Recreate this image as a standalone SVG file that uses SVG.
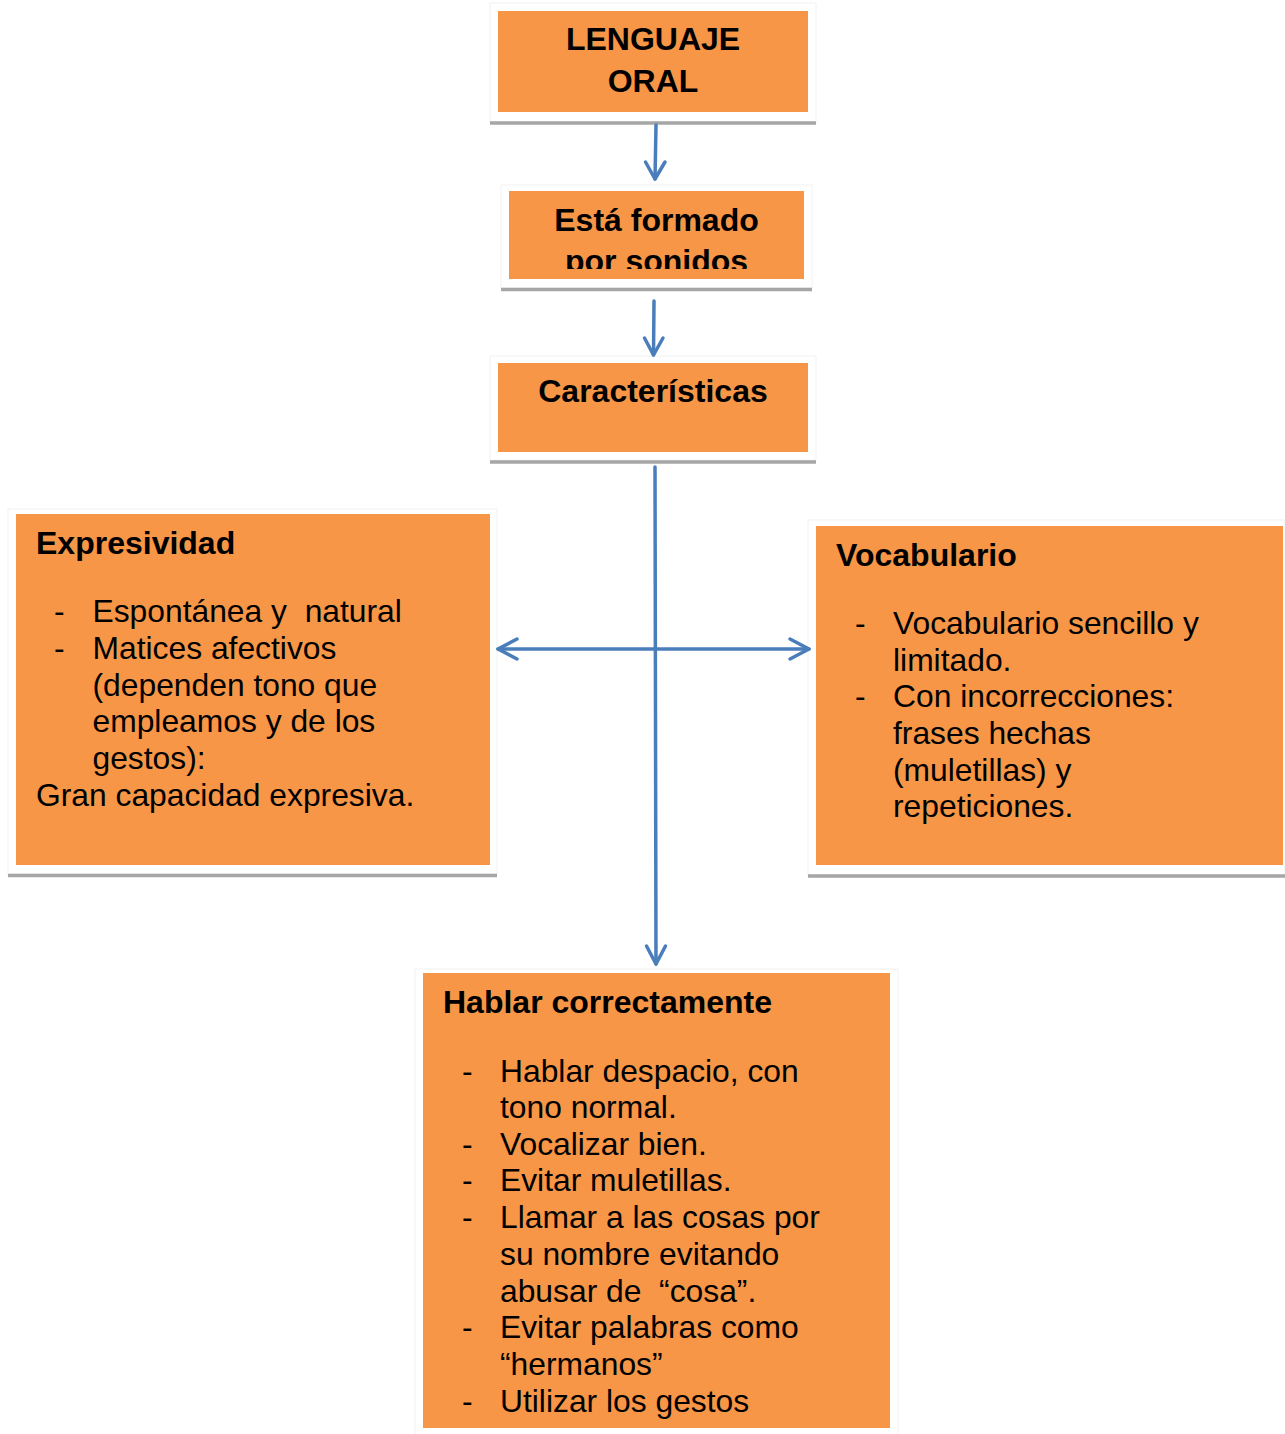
<svg xmlns="http://www.w3.org/2000/svg" width="1285" height="1434" viewBox="0 0 1285 1434">
<style>
.frame{fill:#ffffff;stroke:#f2f2f2;stroke-width:1}
.box{fill:#F79646}
.shadow{stroke:#A6A6A6;stroke-width:3.5;fill:none}
.t{font-family:"Liberation Sans",Arial,sans-serif;fill:#000;white-space:pre}
.b{font-weight:bold;font-size:32px}
.r{font-size:31.8px}
.c{text-anchor:middle}
.con{stroke:#4A7EBB;stroke-width:3.5;fill:none;stroke-linecap:round;stroke-linejoin:round}
</style>
<defs>
<clipPath id="clip2"><rect x="509" y="191" width="295" height="78"/></clipPath>
</defs>
<rect width="1285" height="1434" fill="#ffffff"/>

<g id="node-lenguaje">
<rect class="frame" x="490" y="3" width="326" height="119"/>
<rect class="box" x="498" y="11" width="310" height="101"/>
<line class="shadow" x1="490" y1="123" x2="816" y2="123"/>
<text class="t b c" x="653" y="50">LENGUAJE</text>
<text class="t b c" x="653" y="91.5">ORAL</text>
</g>

<g id="node-formado">
<rect class="frame" x="501" y="185" width="311" height="103"/>
<rect class="box" x="509" y="191" width="295" height="88"/>
<line class="shadow" x1="501" y1="289.5" x2="812" y2="289.5"/>
<g clip-path="url(#clip2)">
<text class="t b c" x="656.5" y="230.5">Está formado</text>
<text class="t b c" x="656.5" y="271.5">por sonidos</text>
</g>
</g>

<g id="node-caracteristicas">
<rect class="frame" x="490" y="356" width="326" height="104"/>
<rect class="box" x="498" y="363" width="310" height="89"/>
<line class="shadow" x1="490" y1="462" x2="816" y2="462"/>
<text class="t b c" x="653" y="401.5">Características</text>
</g>

<g id="node-expresividad">
<rect class="frame" x="8" y="509" width="489" height="365"/>
<rect class="box" x="16" y="514" width="474" height="351"/>
<line class="shadow" x1="8" y1="875.5" x2="497" y2="875.5"/>
<text class="t b" x="36" y="553.5">Expresividad</text>
<text class="t r" x="54" y="622">-</text>
<text class="t r" x="92.5" y="622" xml:space="preserve">Espontánea y  natural</text>
<text class="t r" x="54" y="658.5">-</text>
<text class="t r" x="92.5" y="658.5">Matices afectivos</text>
<text class="t r" x="92.5" y="695.5">(dependen tono que</text>
<text class="t r" x="92.5" y="732">empleamos y de los</text>
<text class="t r" x="92.5" y="768.5">gestos):</text>
<text class="t r" x="36" y="805.5">Gran capacidad expresiva.</text>
</g>

<g id="node-vocabulario">
<rect class="frame" x="808" y="520" width="477" height="355"/>
<rect class="box" x="816" y="526" width="467" height="339"/>
<line class="shadow" x1="808" y1="876" x2="1285" y2="876"/>
<text class="t b" x="836" y="565.5">Vocabulario</text>
<text class="t r" x="855" y="634">-</text>
<text class="t r" x="893" y="634">Vocabulario sencillo y</text>
<text class="t r" x="893" y="670.5">limitado.</text>
<text class="t r" x="855" y="707">-</text>
<text class="t r" x="893" y="707">Con incorrecciones:</text>
<text class="t r" x="893" y="744">frases hechas</text>
<text class="t r" x="893" y="780.5">(muletillas) y</text>
<text class="t r" x="893" y="817">repeticiones.</text>
</g>

<g id="node-hablar">
<rect class="frame" x="415" y="969" width="483" height="470"/>
<rect class="box" x="423" y="973" width="467" height="455"/>
<text class="t b" x="443" y="1012.5">Hablar correctamente</text>
<text class="t r" x="462" y="1082">-</text>
<text class="t r" x="500" y="1082">Hablar despacio, con</text>
<text class="t r" x="500" y="1118">tono normal.</text>
<text class="t r" x="462" y="1154.5">-</text>
<text class="t r" x="500" y="1154.5">Vocalizar bien.</text>
<text class="t r" x="462" y="1191">-</text>
<text class="t r" x="500" y="1191">Evitar muletillas.</text>
<text class="t r" x="462" y="1228">-</text>
<text class="t r" x="500" y="1228">Llamar a las cosas por</text>
<text class="t r" x="500" y="1264.5">su nombre evitando</text>
<text class="t r" x="500" y="1301.5" xml:space="preserve">abusar de  “cosa”.</text>
<text class="t r" x="462" y="1338">-</text>
<text class="t r" x="500" y="1338">Evitar palabras como</text>
<text class="t r" x="500" y="1374.5">“hermanos”</text>
<text class="t r" x="462" y="1411.5">-</text>
<text class="t r" x="500" y="1411.5">Utilizar los gestos</text>
</g>

<g id="connectors">
<line class="con" x1="656" y1="125" x2="655" y2="179"/>
<polyline class="con" points="645.5,162 655,179 665,162"/>
<line class="con" x1="654" y1="301" x2="653.5" y2="355"/>
<polyline class="con" points="644.5,338 653.5,355 663,338"/>
<line class="con" x1="655" y1="467" x2="656" y2="964"/>
<polyline class="con" points="646.5,946 656,964 665.5,946"/>
<line class="con" x1="498" y1="649" x2="809" y2="649"/>
<polyline class="con" points="517,639 498,649 517,659"/>
<polyline class="con" points="790,639 809,649 790,659"/>
</g>
</svg>
